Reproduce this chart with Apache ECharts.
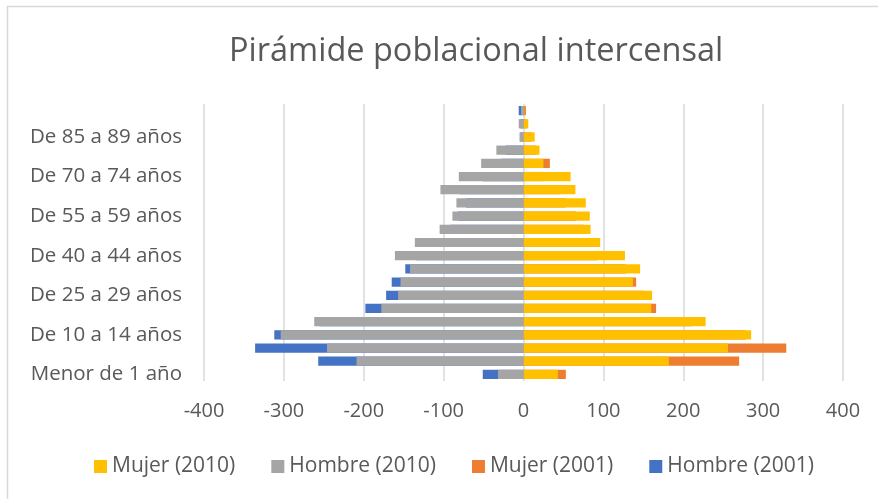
<!DOCTYPE html>
<html>
<head>
<meta charset="utf-8">
<script src="https://cdn.jsdelivr.net/npm/echarts@6/dist/echarts.min.js"></script>
<style>html,body{margin:0;padding:0;background:#fff;}#c{width:878px;height:499px;}</style>
</head>
<body>
<div id="c"></div>
<script>
var categories = ["Menor de 1 año","De 1 a 4 años","De 5 a 9 años","De 10 a 14 años","De 15 a 19 años","De 20 a 24 años","De 25 a 29 años","De 30 a 34 años","De 35 a 39 años","De 40 a 44 años","De 45 a 49 años","De 50 a 54 años","De 55 a 59 años","De 60 a 64 años","De 65 a 69 años","De 70 a 74 años","De 75 a 79 años","De 80 a 84 años","De 85 a 89 años","De 90 a 94 años","De 95 años y más"];
var mujer2010 = [43,182,256,285,228,160,161,137,146,127,96,84,83,78,65,59,25,20,14,6,1];
var hombre2010 = [-32,-209,-246,-304,-262,-178,-157,-154,-142,-161,-136,-105,-89,-84,-104,-81,-53,-34,-5,-6,-3];
var mujer2001 = [53,270,329,278,210,166,150,141,128,92,85,75,66,53,45,26,33,15,10,4,3];
var hombre2001 = [-51,-257,-336,-312,-255,-198,-172,-165,-148,-135,-107,-92,-82,-72,-80,-51,-28,-22,-4,-4,-6];
var xTicks = [-400,-300,-200,-100,0,100,200,300,400];

var FONT = '"Open Sans", sans-serif';
var TXT = '#595959';
var chart = echarts.init(document.getElementById('c'), null, {renderer:'canvas'});
function bar(name, data, color){
  return {name:name, type:'bar', data:data, barGap:'-100%', barCategoryGap:'30%',
    itemStyle:{color:color}, emphasis:{disabled:true}, animation:false};
}
chart.setOption({
  animation:false,
  graphic:[{type:'rect', shape:{x:7.5,y:6.5,width:900,height:600}, style:{fill:'none',stroke:'#d9d9d9',lineWidth:1.5}, z:-10}],
  title:{text:'Pirámide poblacional intercensal', left:224, top:30,
    textStyle:{fontFamily:FONT, fontSize:32.5, fontWeight:'normal', color:TXT}},
  grid:{left:204, right:35, top:104, bottom:118, containLabel:false},
  xAxis:{type:'value', min:-400, max:400, interval:100,
    axisLine:{show:false}, axisTick:{show:false},
    splitLine:{show:true, lineStyle:{color:'#d9d9d9', width:1.5}},
    axisLabel:{margin:20, fontFamily:FONT, fontSize:20, color:TXT,
      formatter:function(v){ return xTicks.indexOf(v) >= 0 ? String(v) : ''; }}},
  yAxis:{type:'category', data:categories,
    axisLine:{show:false}, axisTick:{show:false},
    axisLabel:{interval:2, margin:22, fontFamily:FONT, fontSize:20.5, color:TXT}},
  legend:{data:['Mujer (2010)','Hombre (2010)','Mujer (2001)','Hombre (2001)'],
    left:89, top:451, itemWidth:13, itemHeight:13, itemGap:36, icon:'rect',
    textStyle:{fontFamily:FONT, fontSize:21, color:TXT}},
  series:[
    bar('Mujer (2001)', mujer2001, '#ED7D31'),
    bar('Hombre (2001)', hombre2001, '#4472C4'),
    bar('Mujer (2010)', mujer2010, '#FFC000'),
    bar('Hombre (2010)', hombre2010, '#A5A5A5')
  ]
});
</script>
</body>
</html>
